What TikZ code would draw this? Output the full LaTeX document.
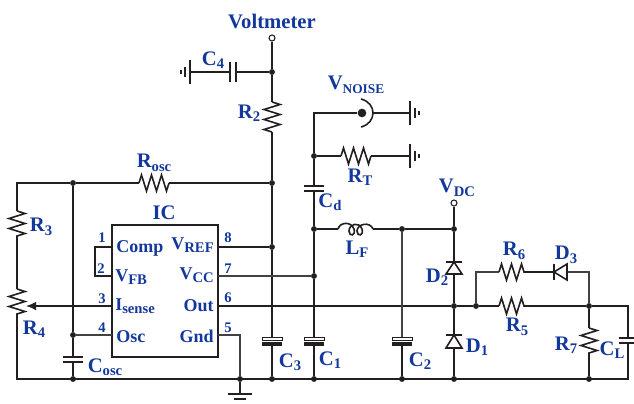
\documentclass[tikz,border=0pt]{standalone}
\usepackage{fontspec}
\setmainfont{Liberation Serif}
\usetikzlibrary{arrows.meta,calc,decorations.pathmorphing}

\newcommand{\Sub}[2]{#1\raisebox{-0.17em}{\fontsize{11}{11}\selectfont #2}}
\newcommand{\Res}[2]{\draw[wire,decorate,decoration={zigzag,segment length=7.5pt,amplitude=6pt}] (#1) -- (#2) ;}
\newcommand{\Capa}[3]{\draw[plate] ($(#1)+(-#3,0)$) -- ($(#1)+(#3,0)$) ; \draw[plate] ($(#2)+(-#3,0)$) -- ($(#2)+(#3,0)$) ;}
\newcommand{\CapaP}[3]{\draw[plate,line width=.6pt,fill=white] ($(#1)+(-#3,-1.5)$) rectangle ($(#1)+(#3,1.5)$) ; \draw[line width=2.6pt,ink] ($(#2)+(-#3,0)$) -- ($(#2)+(#3,0)$) ;}
\definecolor{ink}{HTML}{231F20}
\definecolor{labelblue}{HTML}{12389B}

\begin{document}
\begin{tikzpicture}[x=0.75pt,y=-0.75pt,
    wire/.style={line width=1.2pt,ink},
    thin wire/.style={line width=.9pt,ink!85},
    plate/.style={line width=1.1pt,ink},
    dot/.style={circle,fill=ink,inner sep=0pt,minimum size=4.4pt},
    terminal/.style={circle,draw=ink,fill=white,line width=.8pt,inner sep=0pt,minimum size=4.5pt},
    lab/.style={font=\fontsize{15.5}{15}\selectfont\bfseries,text=labelblue,inner sep=0pt},
    inlab/.style={font=\fontsize{13.5}{14}\selectfont\bfseries,text=labelblue,inner sep=0pt},
    pin/.style={font=\fontsize{11}{11}\selectfont\bfseries,text=labelblue,inner sep=0pt}]
  \useasboundingbox (0,0) rectangle (634,403) ;

  % points of the left part
  \coordinate (c4a) at (236,72) ; \coordinate (c4b) at (230,72) ;
  \coordinate (gndc4) at (190,72) ;
  \coordinate (r2a) at (272,102) ; \coordinate (r2b) at (272,132) ;
  \coordinate (c3a) at (272,339) ; \coordinate (c3b) at (272,344) ;
  \coordinate (rosca) at (139,183) ; \coordinate (roscb) at (169,183) ;
  \coordinate (tl) at (17,183) ;
  \coordinate (r3a) at (17,211) ; \coordinate (r3b) at (17,239) ;
  \coordinate (r4a) at (17,289) ; \coordinate (r4b) at (17,318) ;
  \coordinate (bl) at (17,379) ;
  \coordinate (wiper) at (26,306) ;
  \coordinate (cosa) at (73,357) ; \coordinate (cosb) at (73,362) ;

  % the IC
  \coordinate (p1) at (112,247) ; \coordinate (p2) at (112,276) ;
  \coordinate (p3) at (112,306) ; \coordinate (p4) at (112,335) ;
  \coordinate (p8) at (218,247) ; \coordinate (p7) at (218,276) ;
  \coordinate (p6) at (218,306) ; \coordinate (p5) at (218,335) ;
  \coordinate (lp1) at (95,247) ; \coordinate (lp2) at (95,276) ;
  \coordinate (g5) at (240,335) ;
  \coordinate (gnd) at (240,394) ;

  % points of the right part
  \coordinate (vn) at (314,113) ;
  \coordinate (noiseb) at (373,113) ;
  \coordinate (gndn) at (410,113) ;
  \coordinate (rta) at (341,156) ; \coordinate (rtb) at (371,156) ;
  \coordinate (gndt) at (410,156) ;
  \coordinate (cda) at (314,186) ; \coordinate (cdb) at (314,191) ;
  \coordinate (c1a) at (314,339) ; \coordinate (c1b) at (314,344) ;
  \coordinate (lfa) at (338,229) ; \coordinate (lfb) at (373,229) ;
  \coordinate (c2a) at (402,339) ; \coordinate (c2b) at (402,344) ;
  \coordinate (d2a) at (454,262) ; \coordinate (d2b) at (454,274) ;
  \coordinate (d1a) at (454,335) ; \coordinate (d1b) at (454,348) ;
  \coordinate (tr6) at (476,272) ;
  \coordinate (r6a) at (499,272) ; \coordinate (r6b) at (528,272) ;
  \coordinate (d3a) at (554,272) ; \coordinate (d3b) at (567,272) ;
  \coordinate (tr) at (589,272) ;
  \coordinate (r5a) at (499,306) ; \coordinate (r5b) at (528,306) ;
  \coordinate (r7a) at (589,328) ; \coordinate (r7b) at (589,357) ;
  \coordinate (tcl) at (628,306) ;
  \coordinate (cla) at (628,338) ; \coordinate (clb) at (628,343) ;
  \coordinate (br) at (628,379) ;

  % the IC box and the junctions
  \node[draw=ink,line width=1.1pt,minimum width=79.5pt,minimum height=99pt,inner sep=0pt] (ic) at (165,291) {} ;
  \node[terminal] (volt) at (272,38) {} ;
  \node[dot] (jc4) at (272,72) {} ;
  \node[dot] (jrosc) at (272,183) {} ;
  \node[dot] (jref) at (272,247) {} ;
  \node[dot] (jc3) at (272,379) {} ;
  \node[dot] (jtop) at (73,183) {} ;
  \node[dot] (josc) at (73,335) {} ;
  \node[dot] (jcos) at (73,379) {} ;
  \node[dot] (jgnd) at (240,379) {} ;
  \node[dot,minimum size=6.5pt] (noise) at (362,113) {} ;
  \node[dot] (jrt) at (314,156) {} ;
  \node[dot] (jlf) at (314,229) {} ;
  \node[dot] (jcc) at (314,276) {} ;
  \node[dot] (jc1) at (314,379) {} ;
  \node[dot] (jc2t) at (402,229) {} ;
  \node[dot] (jc2) at (402,379) {} ;
  \node[terminal] (vdc) at (454,203) {} ;
  \node[dot] (jvdc) at (454,229) {} ;
  \node[dot] (jd) at (454,306) {} ;
  \node[dot] (jd1) at (454,379) {} ;
  \node[dot] (jr6) at (476,306) {} ;
  \node[dot] (jr7) at (589,306) {} ;
  \node[dot] (jr7b) at (589,379) {} ;

  % wires
  \draw[wire] (volt) -- (jc4) -- (r2a) ; \draw[wire] (r2b) -- (jrosc) -- (jref) -- (c3a) ;
  \draw[wire] (c3b) -- (jc3) ;
  \draw[wire] (jc4) -- (c4a) ; \draw[wire] (c4b) -- (gndc4) ;
  \draw[wire] (jrosc) -- (roscb) ; \draw[wire] (rosca) -- (jtop) -- (tl) -- (r3a) ;
  \draw[wire] (r3b) -- (r4a) ; \draw[wire] (r4b) -- (bl) -- (br) -- (clb) ;
  \draw[wire] (cla) -- (tcl) -- (jr7) ;
  \draw[wire] (jtop) -- (josc) -- (cosa) ; \draw[wire] (cosb) -- (jcos) ;
  \draw[wire] (p1) -- (lp1) -- (lp2) -- (p2) ;
  \draw[wire,-{Latex[length=7.5pt,width=6.5pt]}] (p3) -- (wiper) ;
  \draw[thin wire] (p4) -- (josc) ;
  \draw[wire] (p8) -- (jref) ;
  \draw[thin wire] (p7) -- (jcc) ;
  \draw[wire] (p6) -- (jd) -- (jr6) -- (r5a) ; \draw[wire] (r5b) -- (jr7) ;
  \draw[thin wire] (p5) -- (g5) -- (jgnd) ; \draw[wire] (jgnd) -- (gnd) ;
  \draw[wire] (gndn) -- (noiseb) ;
  \draw[wire] (noise) -- (vn) -- (jrt) -- (cda) ; \draw[wire] (cdb) -- (jlf) -- (jcc) -- (c1a) ;
  \draw[wire] (c1b) -- (jc1) ;
  \draw[wire] (jrt) -- (rta) ; \draw[wire] (rtb) -- (gndt) ;
  \draw[wire] (jlf) -- (lfa) ; \draw[wire] (lfb) -- (jc2t) -- (jvdc) ;
  \draw[thin wire] (jc2t) -- (c2a) ; \draw[wire] (c2b) -- (jc2) ;
  \draw[wire] (vdc) -- (jvdc) -- (d2a) ; \draw[wire] (d2b) -- (jd) -- (d1a) ; \draw[wire] (d1b) -- (jd1) ;
  \draw[thin wire] (jr6) -- (tr6) -- (r6a) ; \draw[wire] (r6b) -- (d3a) ;
  \draw[thin wire] (d3b) -- (tr) -- (jr7) ; \draw[wire] (jr7) -- (r7a) ; \draw[wire] (r7b) -- (jr7b) ;

  % resistors
  \Res{rosca}{roscb} \Res{r2a}{r2b} \Res{r3a}{r3b} \Res{r4a}{r4b}
  \Res{rta}{rtb} \Res{r6a}{r6b} \Res{r5a}{r5b} \Res{r7a}{r7b}

  % coil
  \draw[wire] (lfa) .. controls (340,222) and (351,221) .. (354,229) .. controls (356,236) and (349,237) .. (349,231)
    .. controls (349,224) and (359,221) .. (362,229) .. controls (364,236) and (357,237) .. (357,231)
    .. controls (357,224) and (370,221) .. (lfb) ;

  % capacitors
  \Capa{cosa}{cosb}{10} \Capa{cda}{cdb}{10}
  \CapaP{c3a}{c3b}{10} \CapaP{c1a}{c1b}{10} \CapaP{c2a}{c2b}{10}
  \Capa{cla}{clb}{9.5}
  \draw[plate] ($(c4a)+(0,-10)$) -- ($(c4a)+(0,10)$) ; \draw[plate] ($(c4b)+(0,-10)$) -- ($(c4b)+(0,10)$) ;

  % diodes
  \draw[wire,fill=white] (d2a) -- ($(d2b)+(-8,0)$) -- ($(d2b)+(8,0)$) -- cycle ;
  \draw[wire] ($(d2a)+(-8,0)$) -- ($(d2a)+(8,0)$) ;
  \draw[wire,fill=white] (d1a) -- ($(d1b)+(-8,0)$) -- ($(d1b)+(8,0)$) -- cycle ;
  \draw[wire] ($(d1a)+(-8,0)$) -- ($(d1a)+(8,0)$) ;
  \draw[wire,fill=white] (d3a) -- ($(d3b)+(0,-8)$) -- ($(d3b)+(0,8)$) -- cycle ;
  \draw[wire] ($(d3a)+(0,-8)$) -- ($(d3a)+(0,8)$) ;

  % probe
  \draw[wire] (361,99) .. controls (369,101) and (373,107) .. (noiseb) .. controls (373,119) and (369,125) .. (361,127) ;

  % grounds
  \draw[wire] ($(gndc4)+(0,-12)$) -- ($(gndc4)+(0,12)$) ; \draw[wire] ($(gndc4)+(-5,-5)$) -- ($(gndc4)+(-5,5)$) ; \draw[wire] ($(gndc4)+(-9,-2)$) -- ($(gndc4)+(-9,2)$) ;
  \draw[wire] ($(gndn)+(0,-12)$) -- ($(gndn)+(0,12)$) ; \draw[wire] ($(gndn)+(5,-5)$) -- ($(gndn)+(5,5)$) ; \draw[wire] ($(gndn)+(9,-2)$) -- ($(gndn)+(9,2)$) ;
  \draw[wire] ($(gndt)+(0,-12)$) -- ($(gndt)+(0,12)$) ; \draw[wire] ($(gndt)+(5,-5)$) -- ($(gndt)+(5,5)$) ; \draw[wire] ($(gndt)+(9,-2)$) -- ($(gndt)+(9,2)$) ;
  \draw[wire] ($(gnd)+(-12,0)$) -- ($(gnd)+(12,0)$) ; \draw[wire] ($(gnd)+(-6,5)$) -- ($(gnd)+(6,5)$) ;

  % labels
  \node[lab] (tvolt) at (272,21) {Voltmeter} ;
  \node[lab] (tc4) at (213,60) {\Sub{C}{4}} ;
  \node[lab] (tr2) at (249,113) {\Sub{R}{2}} ;
  \node[lab] (tnoise) at (356,85) {\Sub{V}{\fontsize{10}{10}\selectfont NOISE}} ;
  \node[lab] (trt) at (360,177) {\Sub{R}{T}} ;
  \node[lab] (trosc) at (154,163) {\Sub{R}{osc}} ;
  \node[lab] (tr3) at (41,227) {\Sub{R}{3}} ;
  \node[lab] (tr4) at (34,329) {\Sub{R}{4}} ;
  \node[lab] (tic) at (164,213) {IC} ;
  \node[lab] (tcosc) at (105,367) {\Sub{C}{osc}} ;
  \node[lab] (tc3) at (290,362) {\Sub{C}{3}} ;
  \node[lab] (tc1) at (330,360) {\Sub{C}{1}} ;
  \node[lab] (tc2) at (420,361) {\Sub{C}{2}} ;
  \node[lab] (tcd) at (330,202) {\Sub{C}{d}} ;
  \node[lab] (tlf) at (357,249) {\Sub{L}{F}} ;
  \node[lab] (tvdc) at (457,188) {\Sub{V}{DC}} ;
  \node[lab] (td2) at (437,277) {\Sub{D}{2}} ;
  \node[lab] (td1) at (477,347) {\Sub{D}{1}} ;
  \node[lab] (tr6) at (514,251) {\Sub{R}{6}} ;
  \node[lab] (td3) at (566,255) {\Sub{D}{3}} ;
  \node[lab] (tr5) at (517,327) {\Sub{R}{5}} ;
  \node[lab] (tr7) at (566,345) {\Sub{R}{7}} ;
  \node[lab] (tcl) at (612,350) {\Sub{C}{L}} ;

  \node[inlab,anchor=west] (tcomp) at (116,248) {Comp} ;
  \node[inlab,anchor=west] (tfb) at (115,277) {\Sub{V}{FB}} ;
  \node[inlab,anchor=west] (tsense) at (115,306) {\Sub{I}{sense}} ;
  \node[inlab,anchor=west] (tosc) at (116,337) {Osc} ;
  \node[inlab,anchor=east] (tref) at (214,245) {\Sub{V}{REF}} ;
  \node[inlab,anchor=east] (tcc) at (214,275) {\Sub{V}{CC}} ;
  \node[inlab,anchor=east] (tout) at (214,306) {Out} ;
  \node[inlab,anchor=east] (tgnd) at (214,336) {Gnd} ;

  \node[pin] (n1) at (102,238) {1} ; \node[pin] (n2) at (101,269) {2} ;
  \node[pin] (n3) at (102,299) {3} ; \node[pin] (n4) at (102,328) {4} ;
  \node[pin] (n8) at (228,238) {8} ; \node[pin] (n7) at (228,269) {7} ;
  \node[pin] (n6) at (228,298) {6} ; \node[pin] (n5) at (228,328) {5} ;
\end{tikzpicture}
\end{document}
